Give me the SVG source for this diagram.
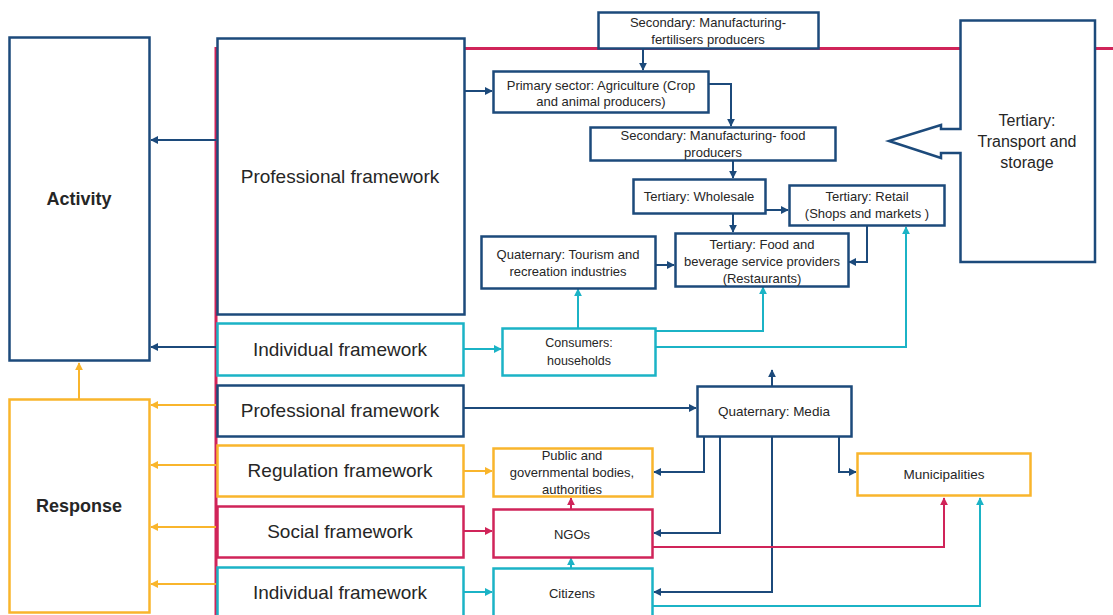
<svg xmlns="http://www.w3.org/2000/svg" width="1113" height="615" viewBox="0 0 1113 615">
<defs>
<marker id="mb" viewBox="0 0 10 10" refX="9" refY="5" markerWidth="4" markerHeight="4" orient="auto"><path d="M0,0 L10,5 L0,10 z" fill="#1c4a7b"/></marker>
<marker id="mc" viewBox="0 0 10 10" refX="9" refY="5" markerWidth="4" markerHeight="4" orient="auto"><path d="M0,0 L10,5 L0,10 z" fill="#1bb3c6"/></marker>
<marker id="my" viewBox="0 0 10 10" refX="9" refY="5" markerWidth="4" markerHeight="4" orient="auto"><path d="M0,0 L10,5 L0,10 z" fill="#f9b52c"/></marker>
<marker id="mr" viewBox="0 0 10 10" refX="9" refY="5" markerWidth="4" markerHeight="4" orient="auto"><path d="M0,0 L10,5 L0,10 z" fill="#d02459"/></marker>
</defs>
<style>
rect{fill:#fff;stroke-width:2.5}
.b{stroke:#1c4a7b}.c{stroke:#1bb3c6}.y{stroke:#f9b52c}.r{stroke:#d02459}
text{font-family:"Liberation Sans",Arial,sans-serif;fill:#262626;text-anchor:middle}
.s{font-size:13px}.t{font-size:12.5px}.u{font-size:13.5px}.m{font-size:16px}.l{font-size:19px}.h{font-size:18px;font-weight:bold}
.cn path{fill:none;stroke-width:2}
.cb{stroke:#1c4a7b;marker-end:url(#mb)}.cc{stroke:#1bb3c6;marker-end:url(#mc)}.cy{stroke:#f9b52c;marker-end:url(#my)}.cr{stroke:#d02459;marker-end:url(#mr)}
</style>
<rect width="1113" height="615" fill="#fff" stroke="none"/>
<path d="M216,615 V48.5 H1113" fill="none" stroke="#d02459" stroke-width="3"/>

<g id="connectors" class="cn">
<path class="cy" d="M79,399 V363"/>
<path class="cb" d="M216,140 H151"/>
<path class="cb" d="M216,347 H151"/>
<path class="cy" d="M216,405 H151"/>
<path class="cy" d="M216,465 H151"/>
<path class="cy" d="M216,527 H151"/>
<path class="cy" d="M216,584 H151"/>
<path class="cb" d="M464,91 H492"/>
<path class="cb" d="M643,49 V70"/>
<path class="cb" d="M708,84 H731 V126"/>
<path class="cb" d="M733,161 V178"/>
<path class="cb" d="M765,210 H788"/>
<path class="cb" d="M733,214 V232"/>
<path class="cb" d="M867,225 V262 H849"/>
<path class="cb" d="M655,265 H674"/>
<path class="cc" d="M463,349 H501"/>
<path class="cc" d="M578,328 V289"/>
<path class="cc" d="M655,331 H763 V287"/>
<path class="cc" d="M655,347 H906 V227"/>
<path class="cb" d="M772,386 V370"/>
<path class="cb" d="M463,408 H696"/>
<path class="cy" d="M463,471 H492"/>
<path class="cr" d="M463,531 H492"/>
<path class="cc" d="M463,592 H492"/>
<path class="cr" d="M571,509 V498"/>
<path class="cc" d="M571,568 V558"/>
<path class="cb" d="M704,437 V472 H654"/>
<path class="cb" d="M720,437 V533 H654"/>
<path class="cb" d="M772,437 V592 H654"/>
<path class="cb" d="M839,437 V472 H856"/>
<path class="cr" d="M652,547 H944 V498"/>
<path class="cc" d="M652,606 H980 V498"/>
</g>

<g id="activity"><rect class="b" x="9.5" y="37.5" width="140" height="323"/><text class="h" x="79" y="205">Activity</text></g>
<g id="response"><rect class="y" x="9.5" y="399.5" width="140" height="213"/><text class="h" x="79" y="512">Response</text></g>

<g id="prof1"><rect class="b" x="217.5" y="38.5" width="247" height="276"/><text class="l" x="340" y="183">Professional framework</text></g>
<g id="indiv1"><rect class="c" x="217.5" y="323.5" width="246" height="52"/><text class="l" x="340" y="356">Individual framework</text></g>
<g id="prof2"><rect class="b" x="217.5" y="385.5" width="246" height="51"/><text class="l" x="340" y="417">Professional framework</text></g>
<g id="regul"><rect class="y" x="217.5" y="445.5" width="246" height="51"/><text class="l" x="340" y="477">Regulation framework</text></g>
<g id="social"><rect class="r" x="217.5" y="506.5" width="246" height="51"/><text class="l" x="340" y="538">Social framework</text></g>
<g id="indiv2"><rect class="c" x="217.5" y="567.5" width="246" height="52"/><text class="l" x="340" y="599">Individual framework</text></g>

<g id="fert"><rect class="b" x="598.5" y="12.5" width="220" height="36"/><text class="s" x="708" y="27">Secondary: Manufacturing-</text><text class="s" x="708" y="44">fertilisers producers</text></g>
<g id="primary"><rect class="b" x="493.5" y="71.5" width="215" height="41"/><text class="s" x="601" y="90">Primary sector: Agriculture (Crop</text><text class="s" x="601" y="106">and animal producers)</text></g>
<g id="secfood"><rect class="b" x="590.5" y="127.5" width="245" height="33"/><text class="s" x="713" y="140">Secondary: Manufacturing- food</text><text class="s" x="713" y="157">producers</text></g>
<g id="wholesale"><rect class="b" x="633.5" y="179.5" width="132" height="34"/><text class="s" x="699" y="201">Tertiary: Wholesale</text></g>
<g id="retail"><rect class="b" x="789.5" y="185.5" width="155" height="40"/><text class="s" x="867" y="201">Tertiary: Retail</text><text class="s" x="867" y="218">(Shops and markets )</text></g>
<g id="tourism"><rect class="b" x="481.5" y="236.5" width="174" height="52"/><text class="s" x="568" y="259">Quaternary: Tourism and</text><text class="s" x="568" y="276">recreation industries</text></g>
<g id="foodbev"><rect class="b" x="675.5" y="233.5" width="173" height="53"/><text class="s" x="762" y="249">Tertiary: Food and</text><text class="s" x="762" y="266">beverage service providers</text><text class="s" x="762" y="283">(Restaurants)</text></g>
<g id="consumers"><rect class="c" x="502.5" y="328.5" width="153" height="47"/><text class="t" x="579" y="347">Consumers:</text><text class="t" x="579" y="365">households</text></g>
<g id="transport"><path d="M960.5,20.5 H1095 V262 H960.5 V153 H941 V158 L889,141 L941,125 V129 H960.5 Z" fill="#fff" stroke="#1c4a7b" stroke-width="2.5"/><text class="m" x="1027" y="126">Tertiary:</text><text class="m" x="1027" y="147">Transport and</text><text class="m" x="1027" y="168">storage</text></g>

<g id="media"><rect class="b" x="697.5" y="386.5" width="154" height="50"/><text class="u" x="774" y="416">Quaternary: Media</text></g>
<g id="public"><rect class="y" x="493.5" y="448.5" width="159" height="48"/><text class="s" x="572" y="460">Public and</text><text class="s" x="572" y="477">governmental bodies,</text><text class="s" x="572" y="494">authorities</text></g>
<g id="municipalities"><rect class="y" x="857.5" y="453.5" width="173" height="42"/><text class="u" x="944" y="479">Municipalities</text></g>
<g id="ngos"><rect class="r" x="493.5" y="509.5" width="159" height="48"/><text class="s" x="572" y="539">NGOs</text></g>
<g id="citizens"><rect class="c" x="493.5" y="568.5" width="159" height="50"/><text class="s" x="572" y="598">Citizens</text></g>
</svg>
